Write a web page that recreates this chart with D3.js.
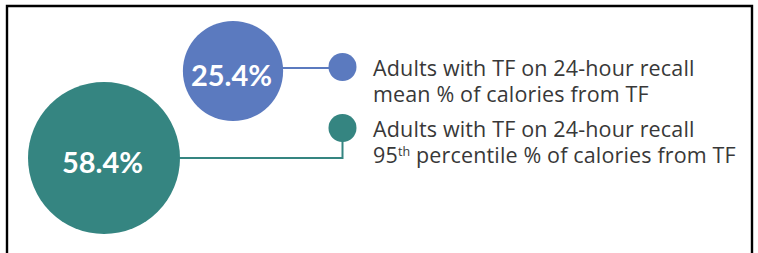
<!DOCTYPE html>
<html>
<head>
<meta charset="utf-8">
<script src="https://cdn.jsdelivr.net/npm/d3@7"></script>
<style>
  html, body { margin: 0; padding: 0; background: #fff; }
  svg { display: block; }
</style>
</head>
<body>
<div id="chart"></div>
<script>
// Chart data
const values = [25.4, 58.4];
const valueLabels = ['25.4%', '58.4%'];
const legendLine1 = ['Adults with TF on 24-hour recall', 'Adults with TF on 24-hour recall'];
const legendLine2 = [['mean % of calories from TF'], ['95', 'th', ' percentile % of calories from TF']];
const colors = ['#5b7abf', '#358581'];

const width = 758;
const height = 253;

const svg = d3.select('#chart')
    .append('svg')
    .attr('width', width)
    .attr('height', height);

// Frame (top, left, right edges)
svg.append('path')
    .attr('d', `M7,${height} L7,6 L${width - 6},6 L${width - 6},${height}`)
    .attr('fill', 'none')
    .attr('stroke', '#000')
    .attr('stroke-width', 2.4);

// Bubble sizes scale by area
const rScale = d3.scaleSqrt()
    .domain([0, d3.max(values)])
    .range([0, 76]);

// Bubble centres: small one up and to the right of the large one
const bubbleX = d3.scaleOrdinal().domain([0, 1]).range([233, 104]);
const bubbleY = d3.scaleOrdinal().domain([0, 1]).range([71, 158]);

// Legend rows
const legendY = d3.scalePoint()
    .domain(d3.range(values.length))
    .range([67, 128]);
const dotX = 342.5;
const dotR = 14;
const textX = 373;

const idx = d3.range(values.length);

// Connector lines
svg.selectAll('.connector')
    .data(idx)
    .join('path')
    .attr('class', 'connector')
    .attr('fill', 'none')
    .attr('stroke', i => colors[i])
    .attr('stroke-width', 2)
    .attr('d', i => {
        const x0 = bubbleX(i) + rScale(values[i]) - 2;
        const y0 = bubbleY(i);
        const ly = legendY(i);
        if (i === 0) return `M${x0},${ly + 1} L${dotX},${ly + 1}`;
        return `M${x0},${y0} L${dotX},${y0} L${dotX},${ly}`;
    });

// Bubbles
svg.selectAll('.bubble')
    .data(idx)
    .join('circle')
    .attr('class', 'bubble')
    .attr('cx', i => bubbleX(i))
    .attr('cy', i => bubbleY(i))
    .attr('r', i => rScale(values[i]))
    .attr('fill', i => colors[i]);

// Value labels
svg.selectAll('.value-label')
    .data(idx)
    .join('text')
    .attr('class', 'value-label')
    .attr('x', i => bubbleX(i) - 1.5)
    .attr('y', i => bubbleY(i) + (i === 0 ? 14.5 : 15))
    .attr('text-anchor', 'middle')
    .style('font-family', 'Lato, sans-serif')
    .style('font-weight', 700)
    .style('font-size', '29px')
    .style('fill', '#fff')
    .text(i => valueLabels[i]);

// Legend dots
svg.selectAll('.legend-dot')
    .data(idx)
    .join('circle')
    .attr('class', 'legend-dot')
    .attr('cx', dotX)
    .attr('cy', i => legendY(i))
    .attr('r', dotR)
    .attr('fill', i => colors[i]);

// Legend text
const legendText = svg.selectAll('.legend-text')
    .data(idx)
    .join('text')
    .attr('class', 'legend-text')
    .attr('x', textX)
    .attr('y', i => legendY(i) + 8.5)
    .style('font-family', '"Open Sans", sans-serif')
    .style('font-size', '21.5px')
    .style('letter-spacing', '0.15px')
    .style('fill', '#383838');

legendText.append('tspan')
    .attr('x', textX)
    .text(i => legendLine1[i]);

legendText.each(function(i) {
    const line = d3.select(this).append('tspan')
        .attr('x', textX)
        .attr('dy', 26.5);
    const parts = legendLine2[i];
    if (parts.length === 1) {
        line.text(parts[0]);
    } else {
        line.append('tspan').text(parts[0]);
        line.append('tspan')
            .attr('dy', -7.5)
            .style('font-size', '12.5px')
            .text(parts[1]);
        line.append('tspan')
            .attr('dy', 7.5)
            .text(parts[2]);
    }
});
</script>
</body>
</html>
